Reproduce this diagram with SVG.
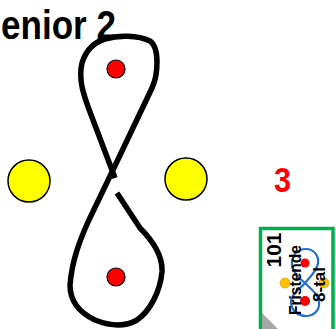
<svg xmlns="http://www.w3.org/2000/svg" width="336" height="329" viewBox="0 0 336 329">
<style>
.t{font-family:"Liberation Sans",Arial,sans-serif;font-weight:bold}
.red{fill:#ff0000;stroke:#000;stroke-width:1.2}
.yel{fill:#ffff00;stroke:#000;stroke-width:1.5}
.sred{fill:#ff0000}
.syel{fill:#ffc000;stroke:#c09000;stroke-width:0.6}
</style>
<rect width="336" height="329" fill="#fff"/>
<g id="title"><text class="t" x="1" y="39" font-size="40" textLength="115" lengthAdjust="spacingAndGlyphs" fill="#000">enior 2</text></g>
<g id="connectors">
<path d="M115,178 L90,112 C84,96 78,80 82,63 C86,50 95,42 105,39 C118,35 138,35 150,41 C160,48 158,75 152,88 L112,172 L88,222 C80,240 72,260 70,285 C70,300 78,312 95,320 C110,326 125,327 137,320 C150,311 160,292 162,272 C163,255 152,240 140,228 L117,193" fill="none" stroke="#000" stroke-width="5.5" stroke-linejoin="round"/>
</g>
<g id="dot-top"><circle class="red" cx="116" cy="69" r="9"/></g>
<g id="dot-bottom"><circle class="red" cx="116" cy="277" r="9"/></g>
<g id="yellow-left"><circle class="yel" cx="29" cy="181" r="21"/></g>
<g id="yellow-right"><circle class="yel" cx="186" cy="179" r="21"/></g>
<g id="number"><text class="t" x="274" y="192" font-size="35" textLength="17" lengthAdjust="spacingAndGlyphs" fill="#ff0000">3</text></g>
<g id="thumbnail">
<rect x="260.5" y="228.5" width="72.5" height="110" fill="#fff" stroke="#00b050" stroke-width="3.5"/>
<polygon points="262,313 262,329 278,329" fill="#a6a6a6"/>
<path d="M305,283 C295,275 291,268 292,262 C293,252 300,249 306,249 C314,249 319,256 318,263 C317,271 310,277 305,283 C299,290 290,295 291,303 C292,312 299,316 306,316 C314,316 320,310 319,302 C318,294 311,289 305,283 Z" fill="none" stroke="#1f6fd8" stroke-width="2.2"/>
<circle class="sred" cx="305" cy="263" r="4.5"/>
<circle class="sred" cx="305" cy="301" r="5"/>
<circle class="syel" cx="285" cy="283" r="5"/>
<circle class="syel" cx="324" cy="283" r="5"/>
<text class="t" transform="translate(281,250) rotate(-90)" font-size="21" text-anchor="middle" fill="#000">101</text>
<text class="t" transform="translate(301,315) rotate(-90)" font-size="17" textLength="70" lengthAdjust="spacingAndGlyphs" fill="#000">Fristende</text>
<text class="t" transform="translate(325,302) rotate(-90)" font-size="17" textLength="35" lengthAdjust="spacingAndGlyphs" fill="#000">8-tal</text>
</g>
</svg>
